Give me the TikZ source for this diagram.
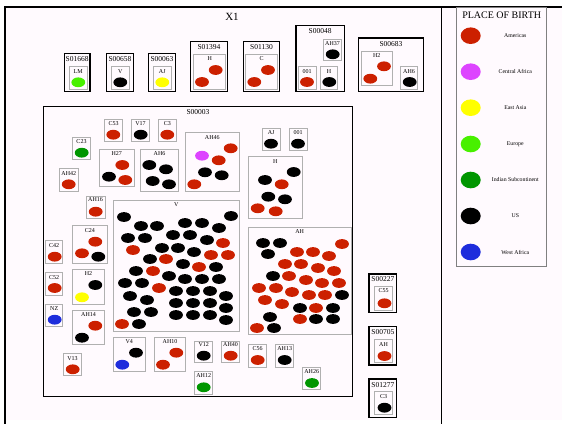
\documentclass[tikz,border=0pt]{standalone}
\usepackage{fontspec}
\setmainfont{Liberation Serif}
\definecolor{bgpink}{RGB}{255,250,254}
\definecolor{cam}{RGB}{204,32,0}
\definecolor{cca}{RGB}{221,68,255}
\definecolor{cea}{RGB}{255,255,0}
\definecolor{ceu}{RGB}{72,240,0}
\definecolor{cis}{RGB}{0,150,0}
\definecolor{cus}{RGB}{0,0,0}
\definecolor{cwa}{RGB}{30,45,220}
\definecolor{inbox}{RGB}{176,176,176}
\newcommand\mydots[2]{\foreach \px/\py in {#2}{\fill[#1] (\px,\py) ellipse [x radius=6.9pt, y radius=4.9pt];}}
\begin{document}
\begin{tikzpicture}[x=1pt,y=-1pt,
  outerbox/.style={draw=black, line width=1.2pt},
  innerbox/.style={draw=inbox, line width=0.8pt},
  biglab/.style={font=\fontsize{7.5}{8}\selectfont, inner sep=0},
  smalllab/.style={font=\fontsize{6}{7}\selectfont, inner sep=0},
  leglab/.style={font=\fontsize{5.8}{7}\selectfont, inner sep=0}]
\useasboundingbox (0,0) rectangle (562,424);
\fill[bgpink] (5,7) rectangle (562,420);
\draw[line width=2.8pt] (4,7) -- (562,7);
\draw[line width=1.8pt] (5,6) -- (5,424);
\draw[line width=0.9pt] (441,7) -- (441,424);

\node[font=\fontsize{11}{12}\selectfont, inner sep=0] (title) at (232,17) {X1};

% ---- top row ----
\draw[outerbox] (64.3,53.3) rectangle (90,91.3);
\node[biglab] (lS01668) at (77.2,59) {S01668};
\draw[innerbox] (69,66.7) rectangle (87.3,89);
\node[smalllab] (lLM) at (78.2,71.7) {LM};
\mydots{ceu}{78.3/82.3}

\draw[outerbox] (106.7,53.3) rectangle (133.3,91.3);
\node[biglab] (lS00658) at (120,59) {S00658};
\draw[innerbox] (111.7,66.7) rectangle (129,89);
\node[smalllab] (lVa) at (120.3,71.7) {V};
\mydots{cus}{120.3/82.3}

\draw[outerbox] (148.7,53.3) rectangle (175.3,91.3);
\node[biglab] (lS00063) at (162,59) {S00063};
\draw[innerbox] (153.7,66.7) rectangle (171,89);
\node[smalllab] (lAJa) at (162.3,71.7) {AJ};
\mydots{cea}{162.3/82.3}

\draw[outerbox] (190.7,41.7) rectangle (227.3,91.3);
\node[biglab] (lS01394) at (209,46.7) {S01394};
\draw[innerbox] (193.7,54.3) rectangle (225.7,89);
\node[smalllab] (lHa) at (209.7,59) {H};
\mydots{cam}{215.7/70,202/82}

\draw[outerbox] (243.3,41.7) rectangle (279.7,91.3);
\node[biglab] (lS01130) at (261.5,46.7) {S01130};
\draw[innerbox] (245.7,54.3) rectangle (277.3,89);
\node[smalllab] (lCa) at (261.5,59) {C};
\mydots{cam}{268/70,254.3/82}

\draw[outerbox] (296,25.7) rectangle (344.3,91.3);
\node[biglab] (lS00048) at (320.2,31) {S00048};
\draw[innerbox] (323.3,39) rectangle (341.7,60);
\node[smalllab] (lAH37) at (332.5,43.3) {AH37};
\mydots{cus}{332.7/54.3}
\draw[innerbox] (298.3,66) rectangle (316,89);
\node[smalllab] (l001a) at (307.2,71.7) {001};
\mydots{cam}{307/82}
\draw[innerbox] (320.3,66) rectangle (337.7,89);
\node[smalllab] (lHb) at (329,71.7) {H};
\mydots{cus}{329.3/82}

\draw[outerbox] (358.3,38) rectangle (423.7,91.3);
\node[biglab] (lS00683) at (391,44) {S00683};
\draw[innerbox] (361,51.3) rectangle (392.3,85);
\node[smalllab] (lH2a) at (376.7,55.7) {H2};
\mydots{cam}{384/66.3,370.3/78.7}
\draw[innerbox] (400.3,66) rectangle (417.7,89);
\node[smalllab] (lAH6a) at (409,71.7) {AH6};
\mydots{cus}{409.7/82}

% ---- big cluster ----
\draw[draw=black, line width=1pt] (43.3,106.7) rectangle (352.7,396);
\node[biglab] (lS00003) at (198,111.7) {S00003};

\draw[innerbox] (104.3,119.3) rectangle (122.7,141.3);
\node[smalllab] (lC53) at (113.5,123.3) {C53};
\mydots{cam}{113.3/134.7}
\draw[innerbox] (131.7,119.3) rectangle (149.3,141.3);
\node[smalllab] (lV17) at (140.5,123.3) {V17};
\mydots{cus}{140.7/134.7}
\draw[innerbox] (158.3,119.3) rectangle (176.3,141.3);
\node[smalllab] (lC3a) at (167.3,123.3) {C3};
\mydots{cam}{167.3/134.7}
\draw[innerbox] (72.3,137.7) rectangle (90.7,159.3);
\node[smalllab] (lC23) at (81.5,141.7) {C23};
\mydots{cis}{81.7/152.7}
\draw[innerbox] (99.3,149.3) rectangle (134.3,186);
\node[smalllab] (lH27) at (116.8,153.3) {H27};
\mydots{cam}{122.3/165,125.3/180}
\mydots{cus}{109/176.7}
\draw[innerbox] (140.7,149.3) rectangle (178.3,191);
\node[smalllab] (lAH6b) at (159.5,153.3) {AH6};
\mydots{cus}{149.3/165,166/169.3,152.7/181,169/184.3}
\draw[innerbox] (185.3,132.3) rectangle (239.3,191);
\node[smalllab] (lAH46) at (212.3,137.3) {AH46};
\mydots{cca}{202/155.7}
\mydots{cam}{230.7/148.3,218.7/160.3,194.3/184.3}
\mydots{cus}{205/172.3,221.7/175.3}
\draw[innerbox] (262.3,128.3) rectangle (280,150.7);
\node[smalllab] (lAJb) at (271.2,132.7) {AJ};
\mydots{cus}{271/143.7}
\draw[innerbox] (289.3,128.3) rectangle (307,150.7);
\node[smalllab] (l001b) at (298.2,132.7) {001};
\mydots{cus}{298/143.7}
\draw[innerbox] (248.3,156.7) rectangle (302.3,218.3);
\node[smalllab] (lHc) at (275.3,161.7) {H};
\mydots{cus}{293.7/172,265/180,268.3/196.7,285/199.3}
\mydots{cam}{281.7/184.3,257.7/208.3,275.7/211.3}
\draw[innerbox] (59.3,168.3) rectangle (78.3,191);
\node[smalllab] (lAH42) at (68.8,173.3) {AH42};
\mydots{cam}{68.7/184.3}
\draw[innerbox] (86,196) rectangle (105,218.3);
\node[smalllab] (lAH16) at (95.5,200) {AH16};
\mydots{cam}{95.7/211.7}

\draw[innerbox] (113.3,200) rectangle (239.3,331.3);
\node[smalllab] (lVb) at (176.3,204.7) {V};
\mydots{cus}{124/217,231/216,141/226,157/226,185/223,202/223,219/228,128/238,145/238,173/235,190/235,207/240,162/248,178/248,194/252,150/259,183/264,216/267,136/271,169/276,185/279,202/279,219/279,125/283,142/283,176/291,193/291,210/291,226/296,130/296,147/300,176/303,193/303,210/303,226/308,134/312,151/312,176/315,193/315,210/315,226/320,139/324}
\mydots{cam}{223/243,133/250,211/255,228/255,166/259,199/267,153/271,159/288,122/324}

\draw[innerbox] (248.3,227.3) rectangle (351,334);
\node[smalllab] (lAHa) at (299.7,231.7) {AH};
\mydots{cus}{263/243,280/243,268/254,273/276,342/295,300/308,333/308,270/317,316/319,333/319,274/328}
\mydots{cam}{342/244,297/252,313/252,329/256,285/264,301/264,318/268,334/271,289/276,306/280,322/283,339/283,259/288,276/288,292/292,309/295,325/295,265/300,282/304,316/308,300/319,257/328}

\draw[innerbox] (72.3,225.7) rectangle (107.3,263.3);
\node[smalllab] (lC24) at (89.8,230.7) {C24};
\mydots{cam}{95.3/241.7,82/253.3}
\mydots{cus}{98.3/256.7}
\draw[innerbox] (45.7,240.7) rectangle (62.7,263.3);
\node[smalllab] (lC42) at (54.2,245.7) {C42};
\mydots{cam}{54.7/256.7}
\draw[innerbox] (45.7,272.7) rectangle (62.7,295.3);
\node[smalllab] (lC52) at (54.2,277.3) {C52};
\mydots{cam}{54.7/288}
\draw[innerbox] (45.7,304.3) rectangle (62.7,326.7);
\node[smalllab] (lNZ) at (54.2,308.3) {NZ};
\mydots{cwa}{54.7/319.7}
\draw[innerbox] (72.7,269.7) rectangle (104.3,304);
\node[smalllab] (lH2b) at (88.5,274) {H2};
\mydots{cus}{95.3/285}
\mydots{cea}{82/297.3}
\draw[innerbox] (72.7,310.3) rectangle (104.3,344.3);
\node[smalllab] (lAH14) at (88.5,315) {AH14};
\mydots{cam}{95.3/325.7}
\mydots{cus}{82/337.7}
\draw[innerbox] (63.3,353.3) rectangle (81.7,375.7);
\node[smalllab] (lV13) at (72.5,358.3) {V13};
\mydots{cam}{72.7/369.3}
\draw[innerbox] (113.3,337.3) rectangle (145,371.3);
\node[smalllab] (lV4) at (129.2,341.7) {V4};
\mydots{cus}{136/352.7}
\mydots{cwa}{122.3/364.7}
\draw[innerbox] (154.3,337.3) rectangle (185.7,371.3);
\node[smalllab] (lAH10) at (170,341.7) {AH10};
\mydots{cam}{176.3/352.7,163/364.7}
\draw[innerbox] (194.7,341) rectangle (212.7,362.3);
\node[smalllab] (lV12) at (203.7,344.7) {V12};
\mydots{cus}{203.7/355.7}
\draw[innerbox] (221.7,341) rectangle (239.3,362.3);
\node[smalllab] (lAH40) at (230.5,344.7) {AH40};
\mydots{cam}{230.7/355.7}
\draw[innerbox] (248.7,344.3) rectangle (266.7,367);
\node[smalllab] (lC56) at (257.7,349) {C56};
\mydots{cam}{257.7/360}
\draw[innerbox] (275.7,344.3) rectangle (293.7,367);
\node[smalllab] (lAH13) at (284.7,349) {AH13};
\mydots{cus}{284.7/360}
\draw[innerbox] (194.7,371) rectangle (212.7,394);
\node[smalllab] (lAH12) at (203.7,375.7) {AH12};
\mydots{cis}{203.7/387.3}
\draw[innerbox] (302.7,367.3) rectangle (320.7,389.7);
\node[smalllab] (lAH26) at (311.7,371.7) {AH26};
\mydots{cis}{312/383}

% ---- right column ----
\draw[outerbox] (369,274) rectangle (396.7,312.7);
\node[biglab] (lS00227) at (382.8,279) {S00227};
\draw[innerbox] (374.7,286.7) rectangle (392.3,310);
\node[smalllab] (lC55) at (383.5,291) {C55};
\mydots{cam}{384.5/303.3}
\draw[outerbox] (369,326.7) rectangle (396.7,365);
\node[biglab] (lS00705) at (382.8,331.7) {S00705};
\draw[innerbox] (374.7,339.3) rectangle (392.3,362);
\node[smalllab] (lAHb) at (383.5,344.3) {AH};
\mydots{cam}{384.5/356}
\draw[outerbox] (369,379) rectangle (396.7,417.7);
\node[biglab] (lS01277) at (382.8,385) {S01277};
\draw[innerbox] (374.7,391.7) rectangle (392.3,414.3);
\node[smalllab] (lC3b) at (383.5,396.7) {C3};
\mydots{cus}{384.5/407.7}

% ---- legend ----
\draw[draw=gray, line width=0.9pt] (456.7,7.3) rectangle (546.7,266);
\node[font=\fontsize{10}{11}\selectfont, inner sep=0] (legtitle) at (501.7,15.5) {PLACE OF BIRTH};
\foreach \c/\y/\t [count=\i] in {cam/35.7/Americas, cca/71.7/Central Africa, cea/107.7/East Asia, ceu/144/Europe, cis/180/Indian Subcontinent, cus/216/US, cwa/252/West Africa}{
  \fill[\c] (470.7,\y) ellipse [x radius=10pt, y radius=8.3pt];
  \node[leglab] (leg\i) at (515.3,\y) {\t};
}
\end{tikzpicture}
\end{document}
